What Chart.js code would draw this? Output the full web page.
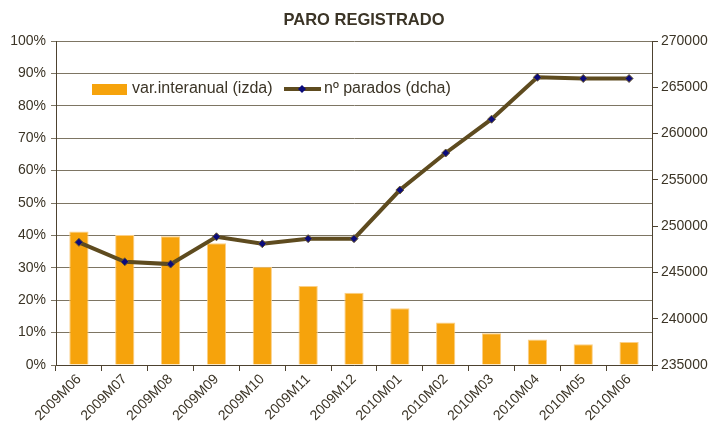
<!DOCTYPE html>
<html>
<head>
<meta charset="utf-8">
<script src="https://cdn.jsdelivr.net/npm/chart.js@4.4.0/dist/chart.umd.min.js"></script>
<style>
  html, body { margin: 0; padding: 0; background: #fff; }
  #wrap { width: 709px; height: 425px; }
</style>
</head>
<body>
<div id="wrap"><canvas id="paroChart" width="709" height="425"></canvas></div>
<script>
// ---- Datos ----
const titulo = 'PARO REGISTRADO';
const meses = ['2009M06', '2009M07', '2009M08', '2009M09', '2009M10', '2009M11', '2009M12',
               '2010M01', '2010M02', '2010M03', '2010M04', '2010M05', '2010M06'];
const varInteranual = [41.2, 40.1, 39.7, 37.6, 30.3, 24.4, 22.3, 17.5, 13.1, 9.8, 7.9, 6.4, 7.1];
const parados = [248250, 246150, 245900, 248850, 248100, 248650, 248650,
                 253900, 257900, 261550, 266080, 265950, 265950];
const ticksIzda = [0, 10, 20, 30, 40, 50, 60, 70, 80, 90, 100];
const ticksDcha = [235000, 240000, 245000, 250000, 255000, 260000, 265000, 270000];

const FONT = '"Liberation Sans", Arial, sans-serif';
const TEXTO = '#3b3426';
const EJE = '#4d4230';

// ---- Título y leyenda dibujados a mano ----
const tituloYLeyenda = {
    id: 'tituloYLeyenda',
    afterDraw(chart) {
        const ctx = chart.ctx;
        const barDs = chart.data.datasets[1];
        const lineDs = chart.data.datasets[0];
        ctx.save();
        // título
        ctx.font = 'bold 16.5px ' + FONT;
        ctx.fillStyle = TEXTO;
        ctx.textAlign = 'center';
        ctx.textBaseline = 'middle';
        ctx.fillText(titulo, 364, 20);
        // leyenda
        ctx.textAlign = 'left';
        ctx.font = '16px ' + FONT;
        const y = 89;
        ctx.fillStyle = barDs.backgroundColor;
        ctx.fillRect(92, 84, 35, 11);
        ctx.fillStyle = TEXTO;
        ctx.fillText(barDs.label, 132, y);
        ctx.strokeStyle = lineDs.borderColor;
        ctx.lineWidth = 4;
        ctx.beginPath();
        ctx.moveTo(284, y);
        ctx.lineTo(321, y);
        ctx.stroke();
        ctx.fillStyle = lineDs.pointBackgroundColor;
        ctx.beginPath();
        ctx.moveTo(302, y - 4);
        ctx.lineTo(306, y);
        ctx.lineTo(302, y + 4);
        ctx.lineTo(298, y);
        ctx.closePath();
        ctx.fill();
        ctx.fillStyle = TEXTO;
        ctx.fillText(lineDs.label, 324, y);
        ctx.restore();
    }
};

const ctx = document.getElementById('paroChart').getContext('2d');
new Chart(ctx, {
    type: 'bar',
    data: {
        labels: meses,
        datasets: [
            {
                type: 'line',
                label: 'nº parados (dcha)',
                data: parados,
                yAxisID: 'yDcha',
                borderColor: '#5e4b1f',
                borderWidth: 4,
                pointStyle: 'rectRot',
                pointRadius: 4,
                pointBackgroundColor: '#0b0b7a',
                pointBorderColor: '#6b5a30',
                pointBorderWidth: 1,
                tension: 0,
                order: 0
            },
            {
                type: 'bar',
                label: 'var.interanual (izda)',
                data: varInteranual,
                yAxisID: 'yIzda',
                backgroundColor: '#f6a30c',
                borderColor: '#fbcf86',
                borderWidth: { top: 1, left: 1, right: 1, bottom: 0 },
                barPercentage: 0.42,
                categoryPercentage: 1,
                order: 1
            }
        ]
    },
    options: {
        responsive: false,
        animation: false,
        layout: { padding: { left: 0, right: 0, top: 41, bottom: 0 } },
        plugins: {
            legend: { display: false },
            tooltip: { enabled: false },
            title: { display: false }
        },
        scales: {
            x: {
                offset: true,
                grid: { offset: true, drawOnChartArea: false, color: EJE, tickLength: 6 },
                border: { color: EJE, width: 1 },
                ticks: {
                    color: TEXTO,
                    font: { family: FONT, size: 14 },
                    minRotation: 45,
                    maxRotation: 45,
                    padding: 0
                },
                afterFit(scale) { scale.height = 60; }
            },
            yIzda: {
                position: 'left',
                min: 0,
                max: 100,
                afterBuildTicks(scale) { scale.ticks = ticksIzda.map(v => ({ value: v })); },
                grid: { color: '#7d7563', lineWidth: 1, tickLength: 5 },
                border: { color: EJE, width: 1 },
                ticks: {
                    color: TEXTO,
                    font: { family: FONT, size: 14 },
                    padding: 5,
                    callback: v => v + '%'
                },
                afterFit(scale) { scale.width = 56; }
            },
            yDcha: {
                position: 'right',
                min: 235000,
                max: 270000,
                afterBuildTicks(scale) { scale.ticks = ticksDcha.map(v => ({ value: v })); },
                grid: { drawOnChartArea: false, color: EJE, tickLength: 6 },
                border: { color: EJE, width: 1 },
                ticks: {
                    color: TEXTO,
                    font: { family: FONT, size: 14 },
                    padding: 3,
                    callback: v => String(v)
                },
                afterFit(scale) { scale.width = 57; }
            }
        }
    },
    plugins: [tituloYLeyenda]
});
</script>
</body>
</html>
